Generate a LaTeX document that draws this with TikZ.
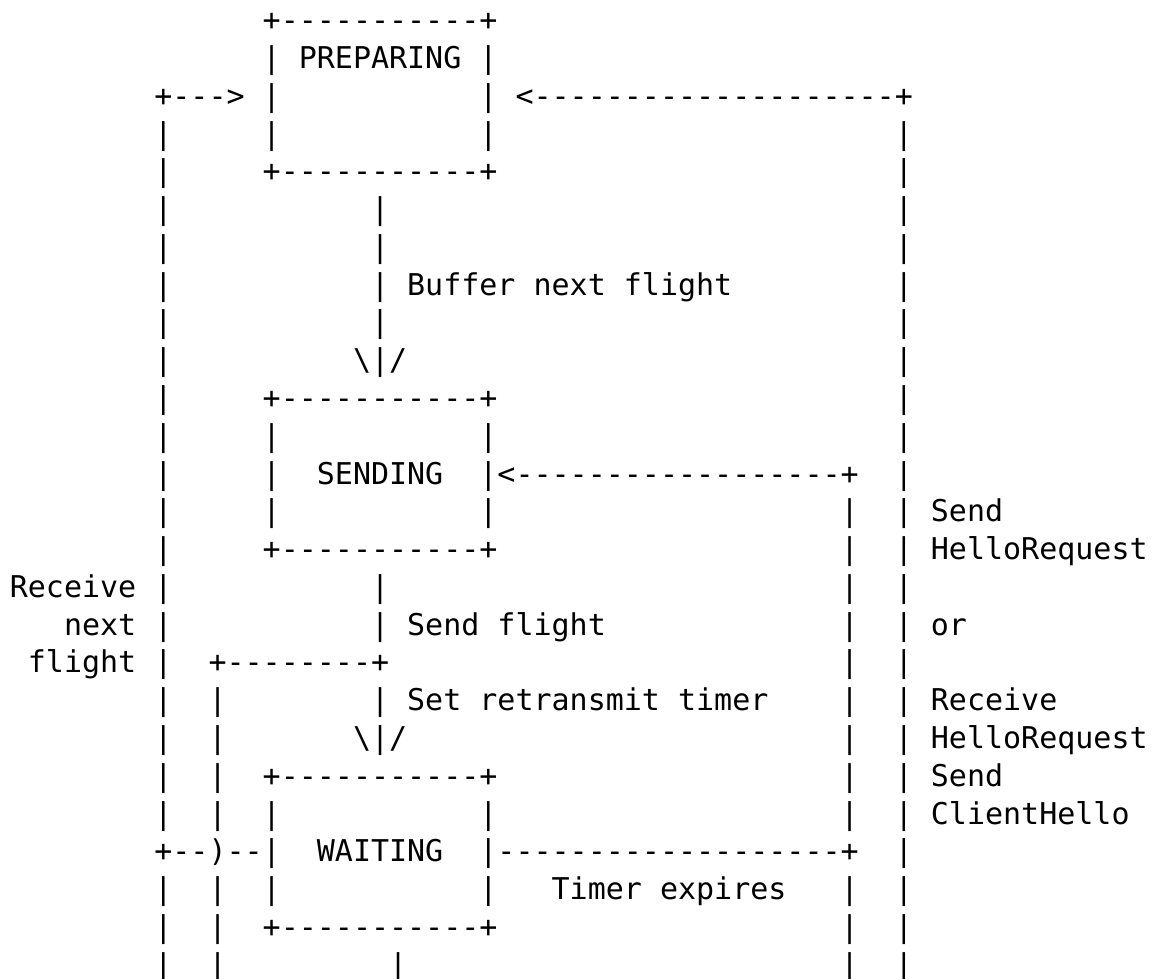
\documentclass[tikz,border=0pt]{standalone}
\usepackage{fontspec}
\setmonofont{DejaVu Sans Mono}
\tikzset{asc/.style={anchor=base west, inner sep=0pt, outer sep=0pt, text=black,
  font=\ttfamily\fontsize{15}{18}\selectfont}}
\newcommand\asc[3]{\node[asc] (r#1c#2) at ({262.7+(#2-19)*18.06},{30.7+(#1-1)*37.78}) {#3};}
\newcommand\bs{\textbackslash}
\begin{document}
\begin{tikzpicture}[x=0.5pt,y=-0.5pt]
\fill[white] (0,0) rectangle (1157,979);
\useasboundingbox (0,0) rectangle (1157,979);
% row 1-2
\asc{1}{19}{+-----------+}
\asc{2}{19}{| PREPARING |}
% row 3
\asc{3}{13}{+--->}
\asc{3}{19}{|}
\asc{3}{31}{|}
\asc{3}{33}{<--------------------+}
% row 4
\asc{4}{13}{|}\asc{4}{19}{|}\asc{4}{31}{|}\asc{4}{54}{|}
% row 5
\asc{5}{13}{|}\asc{5}{19}{+-----------+}\asc{5}{54}{|}
% rows 6-7
\asc{6}{13}{|}\asc{6}{25}{|}\asc{6}{54}{|}
\asc{7}{13}{|}\asc{7}{25}{|}\asc{7}{54}{|}
% row 8
\asc{8}{13}{|}\asc{8}{25}{| Buffer next flight}\asc{8}{54}{|}
% row 9
\asc{9}{13}{|}\asc{9}{25}{|}\asc{9}{54}{|}
% row 10
\asc{10}{13}{|}\asc{10}{24}{\bs|/}\asc{10}{54}{|}
% row 11
\asc{11}{13}{|}\asc{11}{19}{+-----------+}\asc{11}{54}{|}
% row 12
\asc{12}{13}{|}\asc{12}{19}{|}\asc{12}{31}{|}\asc{12}{54}{|}
% row 13
\asc{13}{13}{|}\asc{13}{19}{|}\asc{13}{22}{SENDING}\asc{13}{31}{|<------------------+}\asc{13}{54}{|}
% row 14
\asc{14}{13}{|}\asc{14}{19}{|}\asc{14}{31}{|}\asc{14}{51}{|}\asc{14}{54}{|}\asc{14}{56}{Send}
% row 15
\asc{15}{13}{|}\asc{15}{19}{+-----------+}\asc{15}{51}{|}\asc{15}{54}{|}\asc{15}{56}{HelloRequest}
% row 16
\asc{16}{5}{Receive}\asc{16}{13}{|}\asc{16}{25}{|}\asc{16}{51}{|}\asc{16}{54}{|}
% row 17
\asc{17}{8}{next}\asc{17}{13}{|}\asc{17}{25}{| Send flight}\asc{17}{51}{|}\asc{17}{54}{|}\asc{17}{56}{or}
% row 18
\asc{18}{6}{flight}\asc{18}{13}{|}\asc{18}{16}{+--------+}\asc{18}{51}{|}\asc{18}{54}{|}
% row 19
\asc{19}{13}{|}\asc{19}{16}{|}\asc{19}{25}{| Set retransmit timer}\asc{19}{51}{|}\asc{19}{54}{|}\asc{19}{56}{Receive}
% row 20
\asc{20}{13}{|}\asc{20}{16}{|}\asc{20}{24}{\bs|/}\asc{20}{51}{|}\asc{20}{54}{|}\asc{20}{56}{HelloRequest}
% row 21
\asc{21}{13}{|}\asc{21}{16}{|}\asc{21}{19}{+-----------+}\asc{21}{51}{|}\asc{21}{54}{|}\asc{21}{56}{Send}
% row 22
\asc{22}{13}{|}\asc{22}{16}{|}\asc{22}{19}{|}\asc{22}{31}{|}\asc{22}{51}{|}\asc{22}{54}{|}\asc{22}{56}{ClientHello}
% row 23
\asc{23}{13}{+--)--|}\asc{23}{22}{WAITING}\asc{23}{31}{|-------------------+}\asc{23}{54}{|}
% row 24
\asc{24}{13}{|}\asc{24}{16}{|}\asc{24}{19}{|}\asc{24}{31}{|}\asc{24}{35}{Timer expires}\asc{24}{51}{|}\asc{24}{54}{|}
% row 25
\asc{25}{13}{|}\asc{25}{16}{|}\asc{25}{19}{+-----------+}\asc{25}{51}{|}\asc{25}{54}{|}
% row 26 (cut off)
\asc{26}{13}{|}\asc{26}{16}{|}\asc{26}{26}{|}\asc{26}{51}{|}\asc{26}{54}{|}
\end{tikzpicture}
\end{document}
